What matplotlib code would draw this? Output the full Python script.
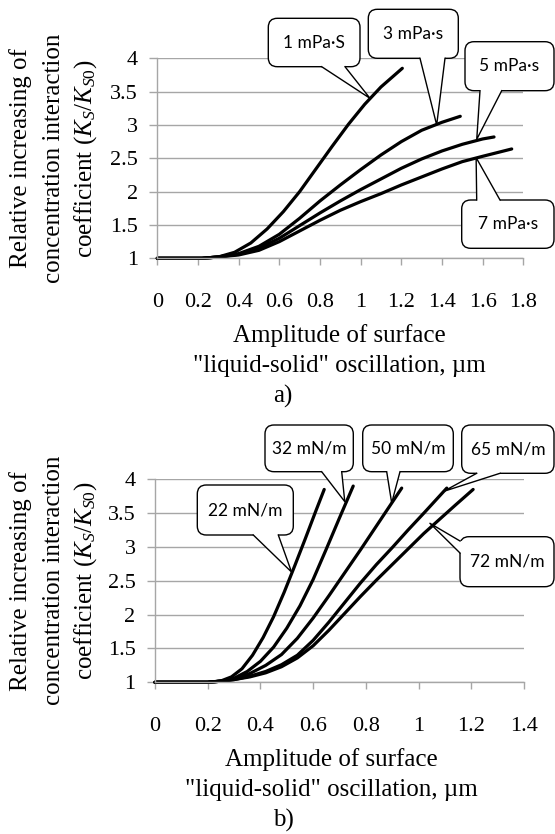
import matplotlib
matplotlib.use("Agg")
import matplotlib.pyplot as plt
from matplotlib.patches import FancyBboxPatch, Polygon

plt.rcParams['font.family'] = ['Liberation Serif', 'DejaVu Serif']
plt.rcParams['mathtext.fontset'] = 'custom'
plt.rcParams['mathtext.rm'] = 'Liberation Serif'
plt.rcParams['mathtext.it'] = 'Liberation Serif:italic'

# ---------------- data: panel a (viscosity) ----------------
a_x_1 = [0, 0.22, 0.30, 0.38, 0.46, 0.54, 0.62, 0.70, 0.78, 0.86, 0.94, 1.02, 1.10, 1.205]
a_y_1 = [1, 1, 1.02, 1.09, 1.23, 1.44, 1.70, 2.0, 2.34, 2.68, 3.01, 3.31, 3.57, 3.85]
a_x_3 = [0, 0.22, 0.30, 0.40, 0.50, 0.60, 0.70, 0.80, 0.90, 1.00, 1.10, 1.20, 1.30, 1.40, 1.49]
a_y_3 = [1, 1, 1.02, 1.07, 1.18, 1.36, 1.60, 1.86, 2.10, 2.33, 2.55, 2.75, 2.92, 3.04, 3.13]
a_x_5 = [0, 0.22, 0.30, 0.40, 0.50, 0.60, 0.70, 0.80, 0.90, 1.00, 1.10, 1.20, 1.30, 1.40, 1.50, 1.60, 1.656]
a_y_5 = [1, 1, 1.02, 1.06, 1.15, 1.30, 1.49, 1.68, 1.86, 2.03, 2.19, 2.35, 2.49, 2.61, 2.71, 2.79, 2.82]
a_x_7 = [0, 0.22, 0.30, 0.40, 0.50, 0.60, 0.70, 0.80, 0.90, 1.00, 1.10, 1.20, 1.30, 1.40, 1.50, 1.60, 1.743]
a_y_7 = [1, 1, 1.02, 1.05, 1.12, 1.25, 1.41, 1.57, 1.72, 1.85, 1.97, 2.10, 2.22, 2.34, 2.45, 2.53, 2.64]
a_labels = ["1 mPa·S", "3 mPa·s", "5 mPa·s", "7 mPa·s"]
a_xticks = [0, 0.2, 0.4, 0.6, 0.8, 1, 1.2, 1.4, 1.6, 1.8]
a_xticklabels = ["0", "0.2", "0.4", "0.6", "0.8", "1", "1.2", "1.4", "1.6", "1.8"]

# ---------------- data: panel b (surface tension) ----------------
b_x_22 = [0, 0.20, 0.25, 0.29, 0.33, 0.37, 0.41, 0.45, 0.49, 0.53, 0.57, 0.61, 0.642]
b_y_22 = [1, 1, 1.02, 1.08, 1.20, 1.40, 1.66, 1.97, 2.33, 2.72, 3.12, 3.53, 3.85]
b_x_32 = [0, 0.20, 0.26, 0.30, 0.35, 0.40, 0.45, 0.50, 0.55, 0.60, 0.65, 0.70, 0.752]
b_y_32 = [1, 1, 1.02, 1.06, 1.16, 1.31, 1.52, 1.80, 2.13, 2.52, 2.97, 3.43, 3.90]
b_x_50 = [0, 0.20, 0.26, 0.30, 0.36, 0.42, 0.48, 0.54, 0.60, 0.66, 0.72, 0.78, 0.84, 0.90, 0.936]
b_y_50 = [1, 1, 1.02, 1.05, 1.13, 1.25, 1.41, 1.65, 1.95, 2.28, 2.62, 2.96, 3.31, 3.66, 3.87]
b_x_65 = [0, 0.20, 0.26, 0.30, 0.36, 0.42, 0.48, 0.54, 0.60, 0.66, 0.72, 0.78, 0.84, 0.90, 0.96, 1.02, 1.107]
b_y_65 = [1, 1, 1.02, 1.04, 1.09, 1.16, 1.26, 1.40, 1.62, 1.89, 2.18, 2.47, 2.74, 2.99, 3.25, 3.50, 3.87]
b_x_72 = [0, 0.20, 0.26, 0.30, 0.36, 0.42, 0.48, 0.54, 0.60, 0.66, 0.72, 0.78, 0.84, 0.90, 0.96, 1.02, 1.08, 1.14, 1.207]
b_y_72 = [1, 1, 1.02, 1.04, 1.08, 1.14, 1.23, 1.36, 1.54, 1.77, 2.02, 2.27, 2.51, 2.74, 2.97, 3.20, 3.41, 3.62, 3.85]
b_labels = ["22 mN/m", "32 mN/m", "50 mN/m", "65 mN/m", "72 mN/m"]
b_xticks = [0, 0.2, 0.4, 0.6, 0.8, 1, 1.2, 1.4]
b_xticklabels = ["0", "0.2", "0.4", "0.6", "0.8", "1", "1.2", "1.4"]

yticks = [1, 1.5, 2, 2.5, 3, 3.5, 4]
yticklabels = ["1", "1.5", "2", "2.5", "3", "3.5", "4"]

W, H = 555, 834
fig = plt.figure(figsize=(W / 100, H / 100), dpi=100)

GRID = '#a6a6a6'


def make_axes(left, right, top, bottom, xmax, xticks, xticklabels):
    ax = fig.add_axes([left / W, 1 - bottom / H, (right - left) / W, (bottom - top) / H])
    ax.set_xlim(0, xmax)
    ax.set_ylim(1, 4)
    ax.set_yticks(yticks)
    ax.set_yticklabels(yticklabels)
    ax.set_xticks(xticks)
    ax.set_xticklabels(xticklabels)
    ax.grid(axis='y', color=GRID, lw=1.0)
    ax.set_axisbelow(True)
    for s in ['top', 'right']:
        ax.spines[s].set_visible(False)
    for s in ['left', 'bottom']:
        ax.spines[s].set_color(GRID)
        ax.spines[s].set_linewidth(1.0)
    ax.tick_params(axis='x', direction='out', length=5, width=1, color=GRID, pad=20, labelsize=16)
    ax.tick_params(axis='y', direction='out', length=6, width=1, color=GRID, pad=8, labelsize=16)
    ax.patch.set_alpha(0)
    return ax


ax1 = make_axes(157.3, 523.3, 58.3, 258.3, 1.8, a_xticks, a_xticklabels)
ax2 = make_axes(155.0, 524.0, 479.3, 682.3, 1.4, b_xticks, b_xticklabels)

LW = 2.3
for xs, ys in [(a_x_1, a_y_1), (a_x_3, a_y_3), (a_x_5, a_y_5), (a_x_7, a_y_7)]:
    ax1.plot(xs, ys, color='black', lw=LW, solid_capstyle='round', solid_joinstyle='round', clip_on=False)
for xs, ys in [(b_x_22, b_y_22), (b_x_32, b_y_32), (b_x_50, b_y_50), (b_x_65, b_y_65), (b_x_72, b_y_72)]:
    ax2.plot(xs, ys, color='black', lw=LW, solid_capstyle='round', solid_joinstyle='round', clip_on=False)

# overlay in pixel coordinates for callouts
ov = fig.add_axes([0, 0, 1, 1], zorder=10)
ov.set_xlim(0, W)
ov.set_ylim(H, 0)
ov.axis('off')
ov.patch.set_alpha(0)


def to_px(ax, x, y):
    d = ax.transData.transform((x, y))
    return d[0], H - d[1]


def callout(box, text, base, inward, tip):
    x0, y0, x1, y1 = box
    bp = FancyBboxPatch((x0, y0), x1 - x0, y1 - y0, boxstyle="round,pad=0,rounding_size=9",
                        fc='white', ec='black', lw=1.0, zorder=1)
    ov.add_patch(bp)
    (bx1, by1), (bx2, by2) = base
    dx, dy = inward
    poly = Polygon([(bx1 + dx, by1 + dy), (bx1, by1), tip, (bx2, by2), (bx2 + dx, by2 + dy)],
                   closed=True, fc='white', ec='none', zorder=2)
    ov.add_patch(poly)
    ov.plot([bx1, tip[0], bx2], [by1, tip[1], by2], color='black', lw=1.0, zorder=3)
    ov.text((x0 + x1) / 2, (y0 + y1) / 2, text, ha='center', va='center',
            fontsize=12.5, family=['Lato', 'DejaVu Sans'], zorder=4)


# panel a callouts
callout((268.3, 18.3, 360, 66.7), a_labels[0], [(321.7, 66.7), (345, 66.7)], (0, -4), to_px(ax1, 1.046, 3.40))
callout((368.3, 9.3, 458.3, 58.3), a_labels[1], [(420, 58.3), (445, 58.3)], (0, -4), to_px(ax1, 1.374, 3.0))
callout((465, 41.7, 554, 90.7), a_labels[2], [(480, 90.7), (501.7, 90.7)], (0, -4), to_px(ax1, 1.571, 2.785))
callout((461.7, 200, 554, 248.3), a_labels[3], [(476.7, 200), (500, 200)], (0, 4), to_px(ax1, 1.568, 2.51))

# panel b callouts
callout((197.3, 485, 293.3, 535), b_labels[0], [(253.3, 535), (278.3, 535)], (0, -4), to_px(ax2, 0.518, 2.63))
callout((265, 425, 353.3, 471.7), b_labels[1], [(321.7, 471.7), (341.7, 471.7)], (0, -4), to_px(ax2, 0.72, 3.67))
callout((362.7, 425, 453.3, 471.7), b_labels[2], [(386.7, 471.7), (400, 471.7)], (0, -4), to_px(ax2, 0.898, 3.65))
callout((461.7, 425, 554, 473.3), b_labels[3], [(476.7, 473.3), (500, 473.3)], (0, -4), to_px(ax2, 1.094, 3.82))
callout((460, 536.7, 554, 586.7), b_labels[4], [(460, 541), (460, 553)], (4, 0), to_px(ax2, 1.043, 3.35))

# axis titles
ylab = ["Relative increasing of", "concentration interaction", r"coefficient ($K_S/K_{S0}$)"]
for cy in [158.3, 580.8]:
    for x, t in zip([21, 54, 86], ylab):
        fig.text(x / W, 1 - cy / H, t, rotation=90, ha='center', va='center', fontsize=18)

for base_y, cx, tag in [(258.3, 339, "a)"), (682.3, 331, "b)")]:
    fig.text(cx / W, 1 - (base_y + 77) / H, "Amplitude of surface", ha='center', va='center', fontsize=18)
    fig.text(cx / W, 1 - (base_y + 108) / H, "\"liquid-solid\" oscillation, µm", ha='center', va='center', fontsize=18)
    fig.text(283 / W, 1 - (base_y + 138) / H, tag, ha='center', va='center', fontsize=18)

fig.savefig("out.png", dpi=100)
